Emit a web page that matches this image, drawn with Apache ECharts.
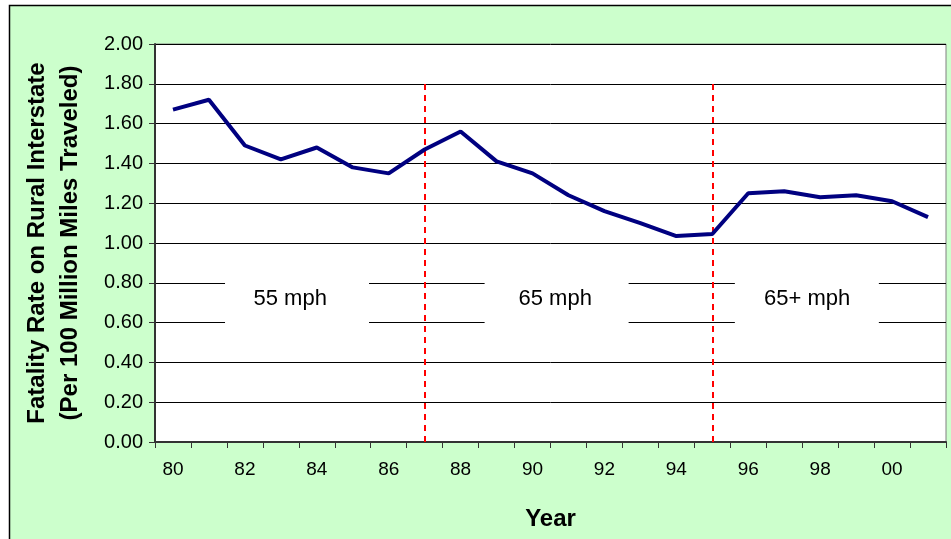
<!DOCTYPE html>
<html>
<head>
<meta charset="utf-8">
<script src="https://cdn.jsdelivr.net/npm/echarts@6/dist/echarts.min.js"></script>
<style>
  html, body { margin: 0; padding: 0; background: #ffffff; }
  #chart { width: 951px; height: 539px; }
</style>
</head>
<body>
<div id="chart"></div>
<script>
// Rural interstate fatality rate by year
const years = ['80','81','82','83','84','85','86','87','88','89','90',
               '91','92','93','94','95','96','97','98','99','00','01'];
const fatalityRate = [1.67, 1.72, 1.49, 1.42, 1.48, 1.38, 1.35, 1.47, 1.56, 1.41, 1.35,
                      1.24, 1.16, 1.10, 1.035, 1.045, 1.25, 1.26, 1.23, 1.24, 1.21, 1.13];
// Years at which the speed limit changed
const limitChangeYears = ['87', '95'];
const limitLineTop = 1.81;
// Speed-limit zone labels: box centre and text centre (fractional category index, rate)
const zoneLabels = ['55 mph', '65 mph', '65+ mph'];
const zoneBoxPos = [[3.45, 0.70], [10.67, 0.70], [17.63, 0.70]];
const zoneTextPos = [[3.26, 0.72], [10.63, 0.72], [17.64, 0.72]];

const chart = echarts.init(document.getElementById('chart'), null, { renderer: 'canvas' });
const font = '"Liberation Sans", Arial, sans-serif';

const option = {
  backgroundColor: '#ffffff',
  animation: false,
  grid: {
    left: 155, right: 5, top: 44, bottom: 97,
    outerBoundsMode: 'none',
    containLabel: false,
    show: true, backgroundColor: '#ffffff', borderColor: '#808080', borderWidth: 1
  },
  xAxis: {
    type: 'category',
    data: years,
    boundaryGap: true,
    name: 'Year',
    nameLocation: 'middle',
    nameGap: 65,
    nameTextStyle: { fontFamily: font, fontSize: 24, fontWeight: 'bold', color: '#000' },
    axisLine: { lineStyle: { color: '#333', width: 2 } },
    axisTick: { show: true, interval: 0, length: 6, lineStyle: { color: '#333', width: 1 } },
    axisLabel: { interval: 1, margin: 18, fontFamily: font, fontSize: 19, color: '#000' },
    splitLine: { show: false }
  },
  yAxis: {
    type: 'value',
    min: 0, max: 2, interval: 0.2,
    name: 'Fatality Rate on Rural Interstate\n(Per 100 Million Miles Traveled)',
    nameLocation: 'middle',
    nameGap: 68,
    nameTextStyle: { fontFamily: font, fontSize: 24, fontWeight: 'bold', color: '#000', lineHeight: 33 },
    axisLine: { show: true, lineStyle: { color: '#333', width: 2 } },
    axisTick: { show: true, length: 6, lineStyle: { color: '#333', width: 1 } },
    axisLabel: {
      margin: 12, fontFamily: font, fontSize: 20, color: '#000',
      formatter: v => v.toFixed(2)
    },
    splitLine: { lineStyle: { color: '#000', width: 1 } }
  },
  series: [{
    type: 'line',
    data: fatalityRate,
    symbol: 'none',
    lineStyle: { color: '#000080', width: 4 },
    z: 5,
    markLine: {
      silent: true,
      symbol: ['none', 'none'],
      label: { show: false },
      lineStyle: { color: '#ff0000', type: [6, 5], width: 2 },
      data: limitChangeYears.map(y => [{ coord: [y, 0] }, { coord: [y, limitLineTop] }])
    }
  }]
};
chart.setOption(option);

// Place the zone label boxes using the chart's own scales
function pixelAt(idx, val) {
  const i0 = Math.floor(idx), f = idx - i0;
  const p0 = chart.convertToPixel({ gridIndex: 0 }, [i0, val]);
  const p1 = chart.convertToPixel({ gridIndex: 0 }, [i0 + 1, val]);
  return [p0[0] + (p1[0] - p0[0]) * f, p0[1]];
}
const graphics = [{
  type: 'rect',
  z: -10,
  shape: { x: 9.5, y: 5.5, width: 1000, height: 600 },
  style: { fill: '#ccffcc', stroke: '#000', lineWidth: 1.5 }
}];
zoneLabels.forEach((txt, k) => {
  const b = pixelAt(zoneBoxPos[k][0], zoneBoxPos[k][1]);
  const t = pixelAt(zoneTextPos[k][0], zoneTextPos[k][1]);
  graphics.push({
    type: 'rect', z: 3,
    shape: { x: b[0] - 72, y: b[1] - 27, width: 144, height: 54 },
    style: { fill: '#ffffff' }
  });
  graphics.push({
    type: 'text', z: 4,
    x: t[0], y: t[1],
    style: { text: txt, font: '22px ' + font, fill: '#000', textAlign: 'center', textVerticalAlign: 'middle' }
  });
});
chart.setOption({ graphic: graphics });
</script>
</body>
</html>
